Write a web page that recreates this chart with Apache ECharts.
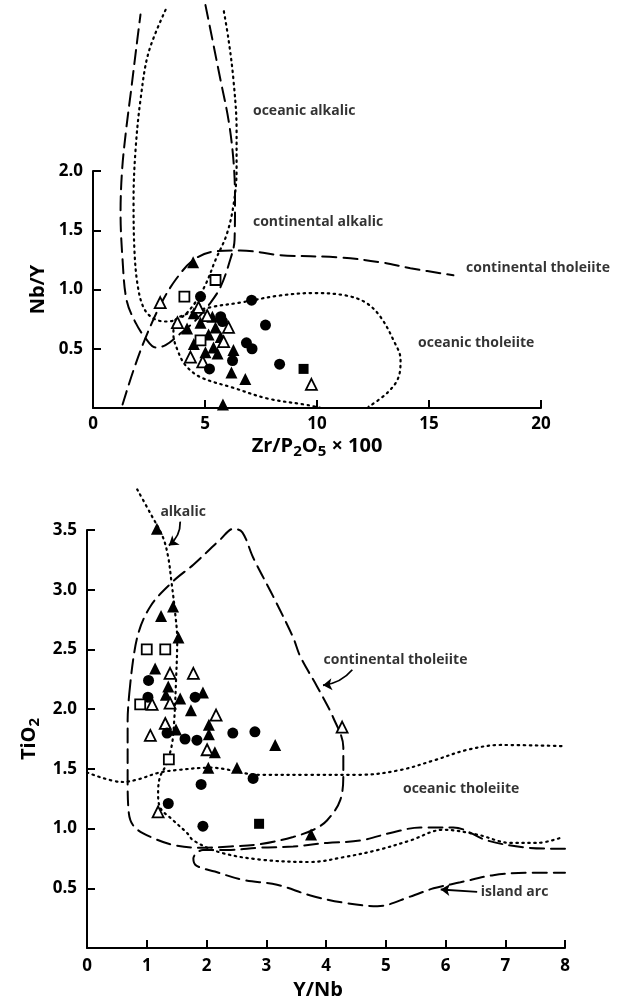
<!DOCTYPE html>
<html><head><meta charset="utf-8">
<script src="https://cdn.jsdelivr.net/npm/echarts@6/dist/echarts.min.js"></script>
<style>html,body{margin:0;padding:0;background:#fff}#c{width:626px;height:1003px}</style>
</head><body><div id="c"></div>
<script>
// ---------- TOP DIAGRAM: Nb/Y vs Zr/P2O5 x 100 ----------
const topFilledTri = [[4.47,1.23],[4.5,0.80],[5.33,0.77],[4.2,0.67],[4.8,0.72],[5.47,0.68],[5.16,0.62],[4.5,0.54],[5.7,0.60],[5.38,0.51],[5.02,0.47],[5.56,0.46],[6.27,0.49],[6.18,0.30],[6.8,0.245],[5.8,0.03]];
const topOpenTri = [[3.0,0.89],[3.77,0.72],[4.71,0.85],[5.1,0.78],[6.05,0.68],[5.83,0.56],[4.35,0.43],[4.9,0.39],[9.75,0.20]];
const topFilledCircle = [[4.8,0.94],[7.08,0.91],[5.7,0.77],[5.78,0.73],[7.7,0.70],[6.85,0.55],[7.1,0.50],[6.23,0.40],[5.2,0.33],[8.33,0.37]];
const topOpenSquare = [[5.47,1.08],[4.08,0.94],[4.8,0.57]];
const topFilledSquare = [[9.4,0.33]];

const topContAlkalic = [[5.02,3.40],[5.33,3.11],[5.69,2.77],[6.05,2.43],[6.27,2.09],[6.34,1.76],[6.32,1.42],[6.09,1.23],[5.69,1.02],[5.25,0.89],[4.58,0.74],[3.91,0.63],[3.24,0.53],[2.79,0.51],[2.34,0.59],[1.90,0.72],[1.50,0.91],[1.32,1.25],[1.23,1.65],[1.30,2.01],[1.48,2.35],[1.70,2.68],[1.92,3.02],[2.12,3.32]];
const topContTholeiite = [[1.32,0.03],[1.81,0.32],[2.34,0.59],[3.01,0.87],[3.68,1.08],[4.49,1.25],[5.38,1.32],[6.58,1.33],[8.37,1.29],[11.05,1.27],[12.83,1.23],[14.17,1.18],[16.09,1.12]];
const topOcAlkalic = [[3.24,3.36],[2.48,3.00],[2.12,2.60],[1.90,2.18],[1.81,1.76],[1.85,1.33],[1.99,1.04],[2.25,0.85],[2.66,0.76],[3.24,0.73],[3.91,0.76],[4.49,0.87],[5.02,1.04],[5.47,1.25],[5.96,1.46],[6.27,1.71],[6.41,2.01],[6.41,2.35],[6.27,2.77],[6.05,3.11],[5.83,3.36]];
const topOcTholeiite = [[10.17,0.0],[9.58,0.025],[7.79,0.08],[6.27,0.17],[4.80,0.26],[4.13,0.36],[3.77,0.49],[3.59,0.62],[3.64,0.73],[4.13,0.79],[5.25,0.85],[6.58,0.89],[8.37,0.95],[9.84,0.97],[11.27,0.95],[12.17,0.89],[12.83,0.77],[13.42,0.57],[13.73,0.41],[13.64,0.26],[13.15,0.13],[12.30,0.01]];
const topFieldLabels = [
  {name:'oceanic alkalic', value:[7.12,2.51]},
  {name:'continental alkalic', value:[7.12,1.57]},
  {name:'continental tholeiite', value:[16.63,1.18]},
  {name:'oceanic tholeiite', value:[14.49,0.55]}
];

// ---------- BOTTOM DIAGRAM: TiO2 vs Y/Nb ----------
const botFilledTri = [[1.17,3.51],[1.44,2.86],[1.24,2.78],[1.53,2.60],[1.14,2.34],[1.36,2.19],[1.32,2.12],[1.56,2.09],[1.94,2.14],[1.74,1.99],[2.04,1.87],[1.49,1.83],[2.04,1.79],[3.15,1.70],[2.14,1.64],[2.03,1.51],[2.51,1.51],[3.75,0.95]];
const botOpenTri = [[1.39,2.30],[1.78,2.30],[1.09,2.04],[1.39,2.05],[2.16,1.95],[1.31,1.88],[1.06,1.78],[2.01,1.66],[1.19,1.14],[4.27,1.85]];
const botFilledCircle = [[1.03,2.24],[1.02,2.10],[1.81,2.10],[1.34,1.80],[1.64,1.75],[1.84,1.74],[2.44,1.80],[2.81,1.81],[2.78,1.42],[1.91,1.37],[1.36,1.21],[1.94,1.02]];
const botOpenSquare = [[1.0,2.50],[1.31,2.50],[0.89,2.04],[1.37,1.58]];
const botFilledSquare = [[2.88,1.04]];

const botContTholeiite = [[0.72,2.19],[0.68,1.91],[0.68,1.41],[0.70,1.13],[0.80,1.01],[1.11,0.92],[1.47,0.86],[1.89,0.84],[2.40,0.85],[2.90,0.87],[3.45,0.93],[3.79,0.99],[4.02,1.07],[4.24,1.24],[4.29,1.47],[4.29,1.68],[4.12,1.93],[3.85,2.19],[3.57,2.44],[3.45,2.60],[3.12,2.94],[2.78,3.27],[2.60,3.48],[2.45,3.51],[2.23,3.42],[1.78,3.21],[1.44,3.07],[1.06,2.86],[0.84,2.60],[0.72,2.19]];
const botIslandArc = [[8.0,0.83],[7.37,0.84],[6.70,0.90],[6.13,1.01],[5.58,1.01],[5.13,0.97],[4.57,0.90],[4.02,0.88],[3.45,0.85],[2.90,0.84],[2.35,0.82],[1.94,0.82],[1.78,0.75],[1.83,0.69],[2.14,0.64],[2.61,0.57],[3.18,0.53],[3.74,0.44],[4.29,0.38],[4.86,0.35],[5.41,0.43],[5.80,0.50],[6.25,0.55],[6.80,0.61],[7.37,0.63],[8.0,0.63]];
const botOcTholeiiteTop = [[0.0,1.47],[0.60,1.39],[0.84,1.41],[1.22,1.47],[1.51,1.49],[2.06,1.51],[2.90,1.45],[3.74,1.45],[4.57,1.45],[5.24,1.49],[5.80,1.57],[6.37,1.66],[6.92,1.70],[8.0,1.69]];
const botAlkalicLine = [[0.84,3.84],[1.06,3.64],[1.27,3.44],[1.36,3.27],[1.41,3.08],[1.47,2.83],[1.51,2.58],[1.49,2.24],[1.46,1.91],[1.42,1.70],[1.32,1.53],[1.22,1.43],[1.19,1.30],[1.22,1.18],[1.44,1.07],[1.68,0.96],[1.78,0.90],[2.23,0.80],[2.90,0.74],[3.74,0.72],[4.29,0.76],[4.86,0.82],[5.41,0.90],[5.96,0.99],[6.53,0.95],[7.09,0.88],[7.54,0.88],[7.97,0.93]];
const botFieldLabels = [
  {name:'alkalic', value:[1.22,3.65]},
  {name:'continental tholeiite', value:[3.95,2.41]},
  {name:'oceanic tholeiite', value:[5.28,1.33]},
  {name:'island arc', value:[6.58,0.47]}
];
const botArrows = [
  {from:[1.56,3.57], to:[1.37,3.37], curve:0.25},
  {from:[4.44,2.33], to:[3.95,2.20], curve:0.2},
  {from:[6.53,0.47], to:[5.92,0.49], curve:0}
];

// ---------- rendering ----------
const FONT = 'Open Sans';
const INK = '#000';
const DASH = [14,7];
const DOT = [1.5,4.5];

function axisCommon(extra){
  return Object.assign({
    type:'value',
    splitLine:{show:false},
    axisLine:{show:true,onZero:false,lineStyle:{color:INK,width:2}},
    axisTick:{show:true,inside:true,length:8,lineStyle:{color:INK,width:2}},
    nameTextStyle:{color:INK,fontFamily:FONT,fontWeight:'bold',fontSize:20}
  }, extra);
}
function tickLabel(margin, fmt){
  const o = {color:INK,fontFamily:FONT,fontWeight:'bold',fontSize:17,margin:margin};
  if (fmt) o.formatter = fmt;
  return o;
}
function curve(data, dash, xi, w){
  return {type:'line', data:data, xAxisIndex:xi, yAxisIndex:xi, smooth:0.35, showSymbol:false, symbol:'none', clip:false, silent:true, z:2,
    lineStyle:{color:INK, width:w||2, type:dash, cap:'round', opacity:1}};
}
function pts(data, sym, open, xi, size){
  return {type:'scatter', data:data, xAxisIndex:xi, yAxisIndex:xi, symbol:sym, symbolSize:size, clip:false, silent:true, z:5,
    itemStyle: open ? {color:'#fff', borderColor:INK, borderWidth:1.8, opacity:1} : {color:INK, opacity:1}};
}
function labels(data, xi){
  return {type:'scatter', data:data, xAxisIndex:xi, yAxisIndex:xi, symbolSize:1, clip:false, silent:true, z:6,
    itemStyle:{color:'transparent'},
    label:{show:true, position:'right', distance:0, formatter:p=>p.name, color:INK, fontFamily:FONT, fontWeight:'bold', fontSize:14}};
}
const arrowSeries = {type:'lines', coordinateSystem:'cartesian2d', xAxisIndex:1, yAxisIndex:1, silent:true, clip:false, z:4,
  symbol:['none','arrow'], symbolSize:9,
  lineStyle:{color:INK, width:1.8, opacity:1},
  data: botArrows.map(a=>({coords:[a.from, a.to], lineStyle:{curveness:a.curve}}))};

const sub = {fontFamily:FONT, fontWeight:'bold', fontSize:15, padding:[10,0,0,0], color:INK};
const norm = {fontFamily:FONT, fontWeight:'bold', fontSize:20, color:INK};

const chart = echarts.init(document.getElementById('c'), null, {renderer:'canvas'});
chart.setOption({
  animation:false,
  backgroundColor:'#fff',
  grid:[
    {left:93, top:171, width:448, height:237},
    {left:87, top:530, width:478, height:418}
  ],
  xAxis:[
    axisCommon({gridIndex:0, min:0, max:20, interval:5, axisLabel:tickLabel(8),
      name:'{a|Zr/P}{s|2}{a|O}{s|5}{a| × 100}', nameLocation:'middle', nameGap:26,
      nameTextStyle:{rich:{a:norm, s:sub}}}),
    axisCommon({gridIndex:1, min:0, max:8, interval:1, axisLabel:tickLabel(10),
      name:'Y/Nb', nameLocation:'middle', nameGap:32,
      nameTextStyle:{color:INK,fontFamily:FONT,fontWeight:'bold',fontSize:20,padding:[0,16,0,0]}})
  ],
  yAxis:[
    axisCommon({gridIndex:0, min:0, max:2, interval:0.5, axisLabel:tickLabel(10, v=> v===0 ? '' : v.toFixed(1)),
      name:'Nb/Y', nameLocation:'middle', nameGap:29}),
    axisCommon({gridIndex:1, min:0, max:3.5, interval:0.5, axisLabel:tickLabel(10, v=> v===0 ? '' : v.toFixed(1)),
      name:'{a|TiO}{s|2}', nameLocation:'middle', nameGap:45,
      nameTextStyle:{rich:{a:norm, s:sub}}})
  ],
  series:[
    curve(topContAlkalic, DASH, 0),
    curve(topContTholeiite, DASH, 0),
    curve(topOcAlkalic, DOT, 0, 2.2),
    curve(topOcTholeiite, DOT, 0, 2.2),
    pts(topFilledTri, 'triangle', false, 0, 12),
    pts(topOpenTri, 'triangle', true, 0, 11),
    pts(topFilledCircle, 'circle', false, 0, 11),
    pts(topOpenSquare, 'rect', true, 0, 10),
    pts(topFilledSquare, 'rect', false, 0, 10),
    labels(topFieldLabels, 0),

    curve(botContTholeiite, DASH, 1),
    curve(botIslandArc, DASH, 1),
    curve(botOcTholeiiteTop, DOT, 1, 2.2),
    curve(botAlkalicLine, DOT, 1, 2.2),
    pts(botFilledTri, 'triangle', false, 1, 12),
    pts(botOpenTri, 'triangle', true, 1, 11),
    pts(botFilledCircle, 'circle', false, 1, 11),
    pts(botOpenSquare, 'rect', true, 1, 10),
    pts(botFilledSquare, 'rect', false, 1, 10),
    labels(botFieldLabels, 1),
    arrowSeries
  ]
});
</script></body></html>
